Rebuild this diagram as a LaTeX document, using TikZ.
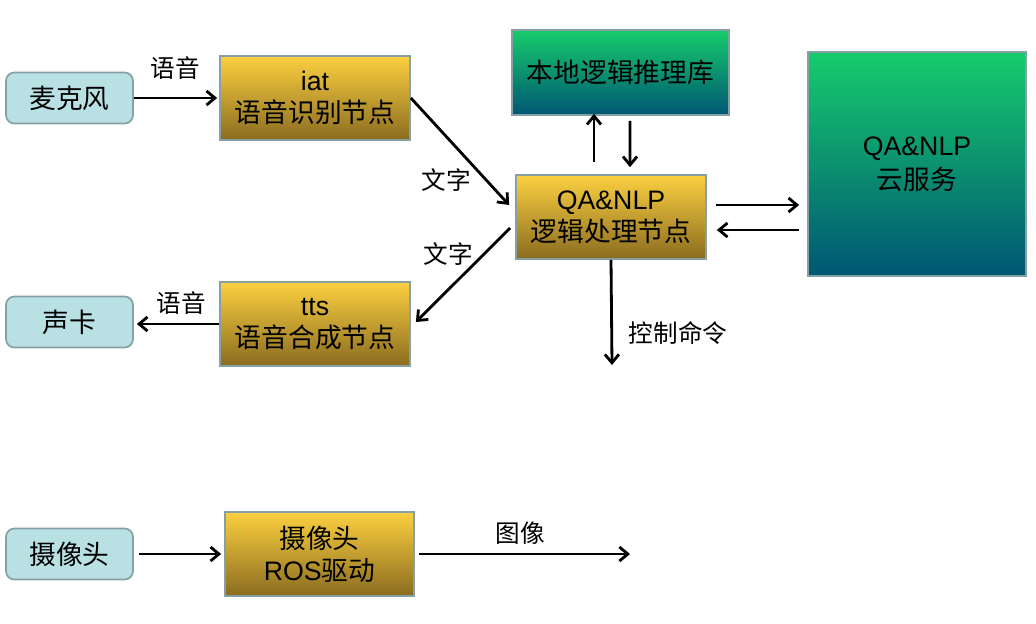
\documentclass[tikz,border=0pt]{standalone}
\usepackage{fontspec}
\setmainfont{Liberation Sans}
\newfontfamily\cjk{Noto Sans CJK SC}
\newcommand\zh[1]{{\cjk #1}}
\usetikzlibrary{arrows.meta,calc}
\definecolor{boxline}{RGB}{135,160,165}
\definecolor{devfill}{RGB}{185,224,227}
\definecolor{goldtop}{RGB}{252,208,64}
\definecolor{goldbot}{RGB}{138,108,32}
\definecolor{greentop}{RGB}{22,204,108}
\definecolor{greenbot}{RGB}{0,86,115}

\begin{document}
\begin{tikzpicture}[x=0.025cm, y=-0.025cm,
  device/.style={draw=boxline, line width=1.2pt, rounded corners=6pt, fill=devfill,
    minimum width=3.175cm, minimum height=1.275cm, font=\fontsize{19}{20}\selectfont\cjk},
  rosnode/.style={draw=boxline, line width=1.2pt, top color=goldtop, bottom color=goldbot,
    minimum width=4.75cm, minimum height=2.1cm, align=center, font=\fontsize{19}{23}\selectfont},
  service/.style={draw=boxline, line width=1.2pt, top color=greentop, bottom color=greenbot,
    align=center, font=\fontsize{19}{24}\selectfont},
  flow/.style={line width=2pt, -{Straight Barb[length=6pt,width=10pt]}},
  msg/.style={font=\fontsize{17.5}{20}\selectfont\cjk}]
                \useasboundingbox (0,0) rectangle (1036,623);
                % devices
                \node [device] (mic) at (69.5, 98) {麦克风};
                \node [device] (card) at (69.5, 322) {声卡};
                \node [device] (cam) at (69.5, 554) {摄像头};
                % ros nodes
                \node [rosnode] (iat) at (315, 98) {iat\\\zh{语音识别节点}};
                \node [rosnode] (tts) at (315, 324) {tts\\\zh{语音合成节点}};
                \node [rosnode] (qa) at (611, 217) {QA\&NLP\\\zh{逻辑处理节点}};
                \node [rosnode, minimum width=4.725cm] (ros) at (319.5, 554) {\zh{摄像头}\\ROS\zh{驱动}};
                % services
                \node [service, minimum width=5.425cm, minimum height=2.125cm] (lib) at (620.5, 72.5) {\zh{本地逻辑推理库}};
                \node [service, minimum width=5.45cm, minimum height=5.6cm] (cloud) at (917, 164) {QA\&NLP\\\zh{云服务}};
                % free ends
                \coordinate (ctrl) at (612, 365);
                \coordinate (img) at (630, 554);
                % speech in
                \draw [flow] (mic.east) -- ([xshift=-0.05cm]iat.west);
                \node [msg] (lbl1) at (175, 68) {语音};
                \draw [flow] (iat.east) -- ($(qa.west)+(-6,-12)$);
                \node [msg] (lbl2) at (446, 180) {文字};
                % speech out
                \draw [flow] ($(qa.west)+(-5,11)$) -- ($(tts.east)+(5,-2)$);
                \node [msg] (lbl3) at (448, 254) {文字};
                \draw [flow] (tts.west) -- ($(tts.west -| card.east)+(3,0)$);
                \node [msg] (lbl4) at (181, 303) {语音};
                % local library
                \draw [flow] ($(qa.north)+(-17,-12)$) -- ($(lib.south)+(-26.5,-2)$);
                \draw [flow] ($(lib.south)+(9.5,5)$) -- ($(qa.north)+(19,-7)$);
                % cloud
                \draw [flow] ($(qa.east)+(9,-12)$) -- ($(qa.east -| cloud.west)+(-8,-12)$);
                \draw [flow] ($(qa.east -| cloud.west)+(-8,13)$) -- ($(qa.east)+(10,13)$);
                % control
                \draw [flow] (qa.south) -- (ctrl);
                \node [msg] (lbl5) at (678, 333) {控制命令};
                % camera
                \draw [flow] ($(cam.east)+(5,0)$) -- ($(ros.west)+(-3,0)$);
                \draw [flow] ($(ros.east)+(4,0)$) -- (img);
                \node [msg] (lbl6) at (520, 533) {图像};
\end{tikzpicture}
\end{document}
